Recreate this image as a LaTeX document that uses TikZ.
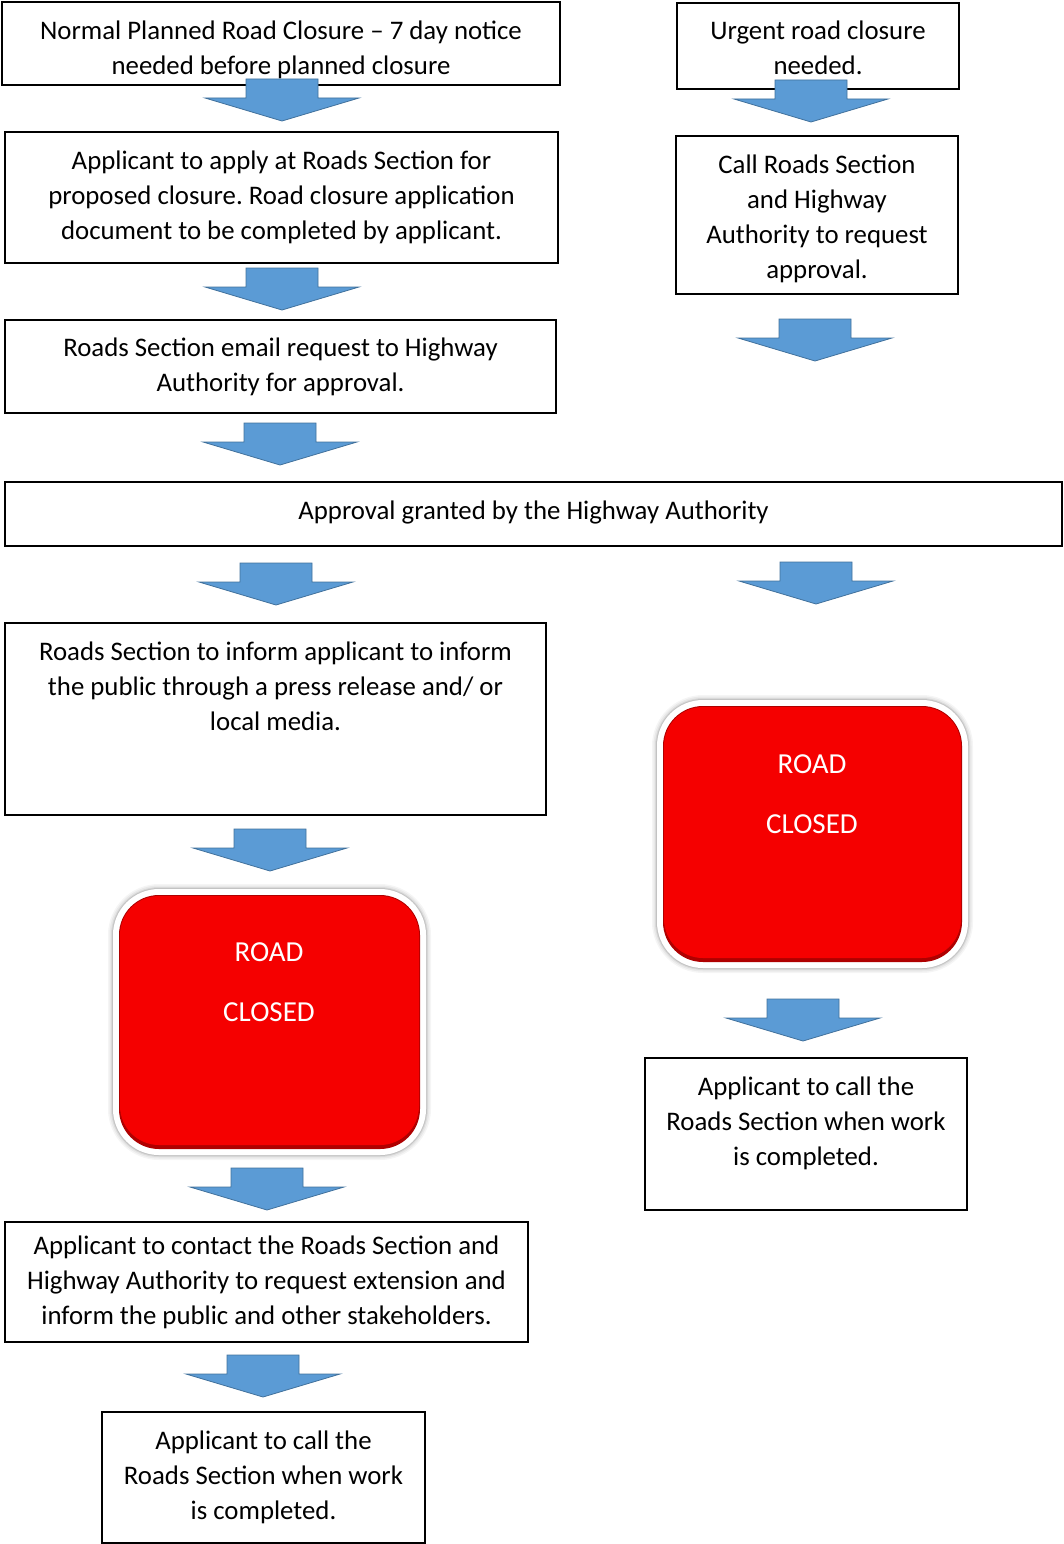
\documentclass[tikz,border=0pt]{standalone}
\usepackage{fontspec}
\setmainfont{Carlito}
\frenchspacing
\usetikzlibrary{calc}
\definecolor{arrowblue}{RGB}{91,155,213}
\definecolor{arrowedge}{RGB}{65,113,156}
\definecolor{roadred}{RGB}{245,0,0}
\definecolor{darkred}{RGB}{175,0,0}
\tikzset{
  box/.style={draw=black, line width=1.6pt, fill=white, inner sep=0pt, align=center,
    font=\fontsize{26.8}{35}\selectfont},
  plain/.style={inner sep=0pt, align=center, font=\fontsize{26.8}{35}\selectfont},
  outerbox/.style={fill=white, rounded corners=46pt, inner sep=0pt},
  innerbox/.style={fill=darkred, rounded corners=40pt, inner sep=0pt},
  signtext/.style={inner sep=0pt, align=center, text=white, font=\fontsize{29}{60}\selectfont},
  blockarrow/.pic={
    \fill[arrowblue, draw=arrowedge, line width=0.8pt]
      (-36,0) -- (36,0) -- (36,19) -- (77,19) -- (0,42) -- (-77,19) -- (-36,19) -- cycle;
  }
}
\newcommand{\RoadSign}[5]{%
  % #1 name, #2 cx, #3 cy, #4 w, #5 h
  \foreach \lw/\op in {10/0.04,7/0.05,4/0.07,2/0.1}
    \draw[line width=\lw pt, black, opacity=\op, rounded corners=46pt]
      (#2-#4/2,#3-#5/2) rectangle (#2+#4/2,#3+#5/2);
  \node[outerbox, minimum width=#4 pt, minimum height=#5 pt] (#1) at (#2,#3) {};
  \node[innerbox, minimum width=#4 pt - 12pt, minimum height=#5 pt - 12pt] (#1in) at (#2,#3) {};
  \fill[roadred, rounded corners=39pt] (#2-#4/2+7,#3-#5/2+7) rectangle (#2+#4/2-7,#3+#5/2-10);
}
\begin{document}
\begin{tikzpicture}[x=1pt,y=-1pt]
\useasboundingbox (0,0) rectangle (1064,1544);

% left column boxes
\node[box, minimum width=558pt, minimum height=83pt] (a) at (281,43.5) {};
\node[plain] (at) at (281,49.5)
  {Normal Planned Road Closure -- 7 day notice\\needed before planned closure};
\node[box, minimum width=553pt, minimum height=131pt] (c) at (281.5,197.5)
  {Applicant to apply at Roads Section for\\proposed closure. Road closure application\\document to be completed by applicant.};
\node[box, minimum width=551pt, minimum height=93pt] (e) at (280.5,366.5)
  {Roads Section email request to Highway\\Authority for approval.};
\node[box, minimum width=1057pt, minimum height=64pt] (f) at (533.5,514) {};
\node[plain] (ft) at (533.5,512) {Approval granted by the Highway Authority};
\node[box, minimum width=541pt, minimum height=192pt] (g) at (275.5,719) {};
\node[plain, anchor=north] (gt) at ($(g.north)+(0,19)$)
  {Roads Section to inform applicant to inform\\the public through a press release and/ or\\local media.};
\node[box, minimum width=523pt, minimum height=120pt] (i) at (266.5,1282)
  {Applicant to contact the Roads Section and\\Highway Authority to request extension and\\inform the public and other stakeholders.};
\node[box, minimum width=323pt, minimum height=131pt] (j) at (263.5,1477.5)
  {Applicant to call the\\Roads Section when work\\is completed.};

% right column boxes
\node[box, minimum width=282pt, minimum height=86pt] (b) at (818,46) {};
\node[plain] (bt) at (818,48) {Urgent road closure\\needed.};
\node[box, minimum width=282pt, minimum height=158pt] (d) at (817,215) {};
\node[plain] (dt) at (817,219) {Call Roads Section\\and Highway\\Authority to request\\approval.};
\node[box, minimum width=322pt, minimum height=152pt] (h) at (806,1134) {};
\node[plain, anchor=north] (ht) at ($(h.north)+(0,19)$)
  {Applicant to call the\\Roads Section when work\\is completed.};

% road closed signs
\RoadSign{rone}{812.5}{834}{311}{268}
\node[signtext] (ronet) at (812,794) {ROAD\\CLOSED};
\RoadSign{rtwo}{269.5}{1022}{313}{266}
\node[signtext] (rtwot) at (269,982) {ROAD\\CLOSED};

% block arrows
\pic at (282,79) {blockarrow};
\pic at (811,80) {blockarrow};
\pic at (282,268) {blockarrow};
\pic at (815,319) {blockarrow};
\pic at (280,423) {blockarrow};
\pic at (276,563) {blockarrow};
\pic at (816,562) {blockarrow};
\pic at (270,829) {blockarrow};
\pic at (267,1168) {blockarrow};
\pic at (803,999) {blockarrow};
\pic at (263,1355) {blockarrow};
\end{tikzpicture}
\end{document}
